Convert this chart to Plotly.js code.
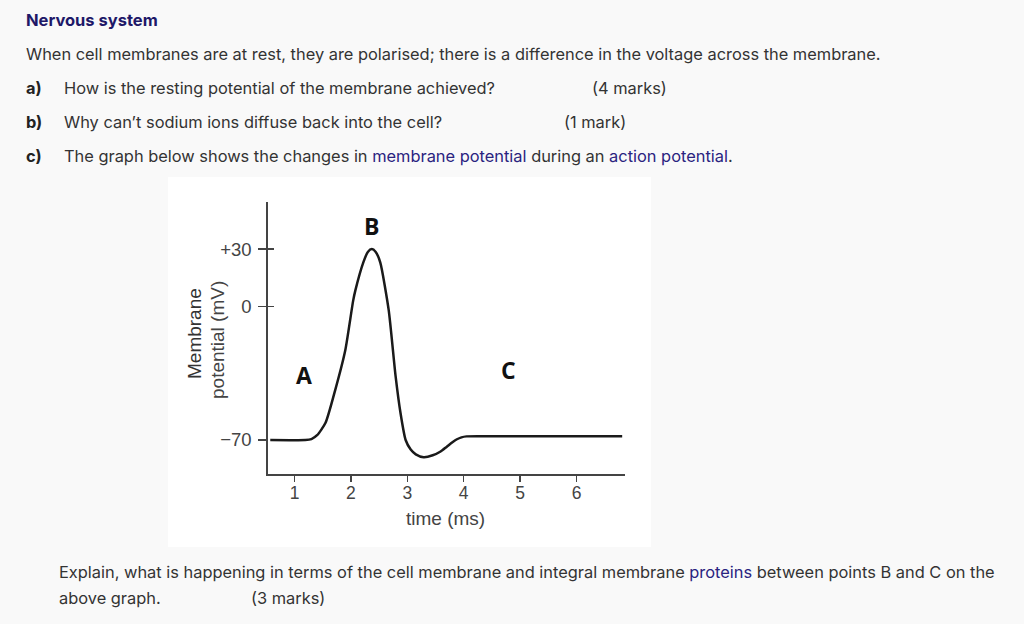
<!DOCTYPE html>
<html>
<head>
<meta charset="utf-8">
<script src="https://cdn.plot.ly/plotly-3.0.1.min.js"></script>
<style>
html,body{margin:0;padding:0;background:#f9f9f9;}
#chart{width:1024px;height:624px;}
</style>
</head>
<body>
<div id="chart"></div>
<script>
// Data
const timeMs    = [0.57, 1.19, 1.30, 1.40, 1.55, 1.72, 1.90, 2.04, 2.08, 2.22, 2.30, 2.37, 2.44, 2.52, 2.67, 2.79, 2.88, 2.97, 3.06, 3.15, 3.29, 3.45, 3.59, 3.70, 3.80, 3.88, 3.96, 4.05, 4.30, 6.81];
const potential = [-70, -70, -69.5, -67.5, -61, -44, -23, 3, 8.5, 23, 28.5, 30, 28.5, 23, -2, -36, -56, -70, -75, -77.5, -79, -78, -76, -73.5, -71.2, -69.6, -68.6, -68.1, -68, -68];
const xTickVals = [1, 2, 3, 4, 5, 6];
const xTickText = ['1', '2', '3', '4', '5', '6'];
const yTickVals = [30, 0, -70];
const yTickText = ['+30', '0', '\u221270'];
const pointLabels = ['A', 'B', 'C'];
const pointLabelX = [1.17, 2.37, 4.80];
const pointLabelY = [-36, 42, -33.5];

const W = 1024, H = 624;
const px = x => x / W;
const py = y => 1 - y / H;

const FAM = 'Inter, "Noto Sans", sans-serif';
const bodyFont = {family: FAM, size: 16.4, color: '#333333'};
const boldFont = {family: FAM, size: 16.4, color: '#222222'};
const link = s => '<span style="color:#2a2380">' + s + '</span>';

function txt(text, x, y, font, extra) {
  return Object.assign({text: text, x: px(x), y: py(y), xref: 'paper', yref: 'paper',
    xanchor: 'left', yanchor: 'middle', showarrow: false, font: font}, extra || {});
}

const gFont = {family: '"Liberation Sans", Arial, sans-serif', size: 19, color: '#444444'};

const annotations = [
  txt('<b>Nervous system</b>', 24, 20, {family: FAM, size: 16.5, color: '#1e1868'}),
  txt('When cell membranes are at rest, they are polarised; there is a difference in the voltage across the membrane.', 24, 54, bodyFont),
  txt('<b>a)</b>', 24, 88, boldFont),
  txt('How is the resting potential of the membrane achieved?', 62, 88, bodyFont),
  txt('(4 marks)', 590, 88, bodyFont),
  txt('<b>b)</b>', 24, 122, boldFont),
  txt('Why can\u2019t sodium ions diffuse back into the cell?', 62, 122, bodyFont),
  txt('(1 mark)', 562, 122, bodyFont),
  txt('<b>c)</b>', 24, 156, boldFont),
  txt('The graph below shows the changes in ' + link('membrane potential') + ' during an ' + link('action potential') + '.', 62, 156, bodyFont),
  txt('Explain, what is happening in terms of the cell membrane and integral membrane ' + link('proteins') + ' between points B and C on the', 57, 572, bodyFont),
  txt('above graph.', 57, 598, bodyFont),
  txt('(3 marks)', 249, 598, bodyFont),
  // axis titles inside the figure
  txt('time (ms)', 445, 518, gFont, {xanchor: 'center'}),
  txt('Membrane', 194, 334, Object.assign({}, gFont, {color: '#333333'}), {xanchor: 'center', textangle: -90}),
  txt('potential (mV)', 218, 340, gFont, {xanchor: 'center', textangle: -90})
];

pointLabels.forEach((l, i) => {
  annotations.push({text: '<b>' + l + '</b>', x: pointLabelX[i], y: pointLabelY[i], xref: 'x', yref: 'y',
    showarrow: false, font: {family: '"Open Sans", "Liberation Sans", sans-serif', size: 23, color: '#111111'}});
});

const xRange = [0.535, 6.86];
const yRange = [-87.8, 54.8];
const xDomain = [px(268.3), px(625)];
const yDomain = [py(474), py(201.7)];

const trace = {
  x: timeMs, y: potential, type: 'scatter', mode: 'lines',
  line: {color: '#1a1a1a', width: 2.5, shape: 'spline', smoothing: 0.6},
  hoverinfo: 'skip', cliponaxis: false
};

const axisFont = {family: '"Liberation Sans", Arial, sans-serif', size: 18.5, color: '#444444'};

const layout = {
  width: W, height: H,
  margin: {l: 0, r: 0, t: 0, b: 0},
  paper_bgcolor: '#f9f9f9',
  plot_bgcolor: 'rgba(0,0,0,0)',
  showlegend: false,
  xaxis: {
    domain: xDomain, range: xRange, showgrid: false, zeroline: false,
    showline: true, linecolor: '#444444', linewidth: 2,
    ticks: 'outside', ticklen: 6, tickwidth: 1.5, tickcolor: '#444444',
    tickvals: xTickVals, ticktext: xTickText, tickfont: Object.assign({}, axisFont, {size: 17.5}),
    ticklabelstandoff: -4
  },
  yaxis: {
    domain: yDomain, range: yRange, showgrid: false, zeroline: false,
    showline: true, linecolor: '#444444', linewidth: 2,
    ticks: 'outside', ticklen: 8, tickwidth: 1.5, tickcolor: '#444444',
    tickvals: yTickVals, ticktext: yTickText, tickfont: axisFont,
    ticklabelstandoff: 3
  },
  yaxis2: {
    domain: yDomain, range: yRange, overlaying: 'y', side: 'left', anchor: 'x',
    showgrid: false, zeroline: false, showline: false,
    ticks: 'inside', ticklen: 6, tickwidth: 1.5, tickcolor: '#444444',
    tickvals: [30, 0], showticklabels: false
  },
  shapes: [
    {type: 'rect', xref: 'paper', yref: 'paper', x0: px(168), x1: px(651), y0: py(547), y1: py(177),
     fillcolor: '#ffffff', line: {width: 0}, layer: 'below'}
  ],
  annotations: annotations
};

const dummy = {x: [xRange[0]], y: [yRange[0]], yaxis: 'y2', type: 'scatter', mode: 'markers',
  marker: {opacity: 0}, hoverinfo: 'skip'};

Plotly.newPlot('chart', [trace, dummy], layout, {staticPlot: true, displayModeBar: false});
</script>
</body>
</html>
